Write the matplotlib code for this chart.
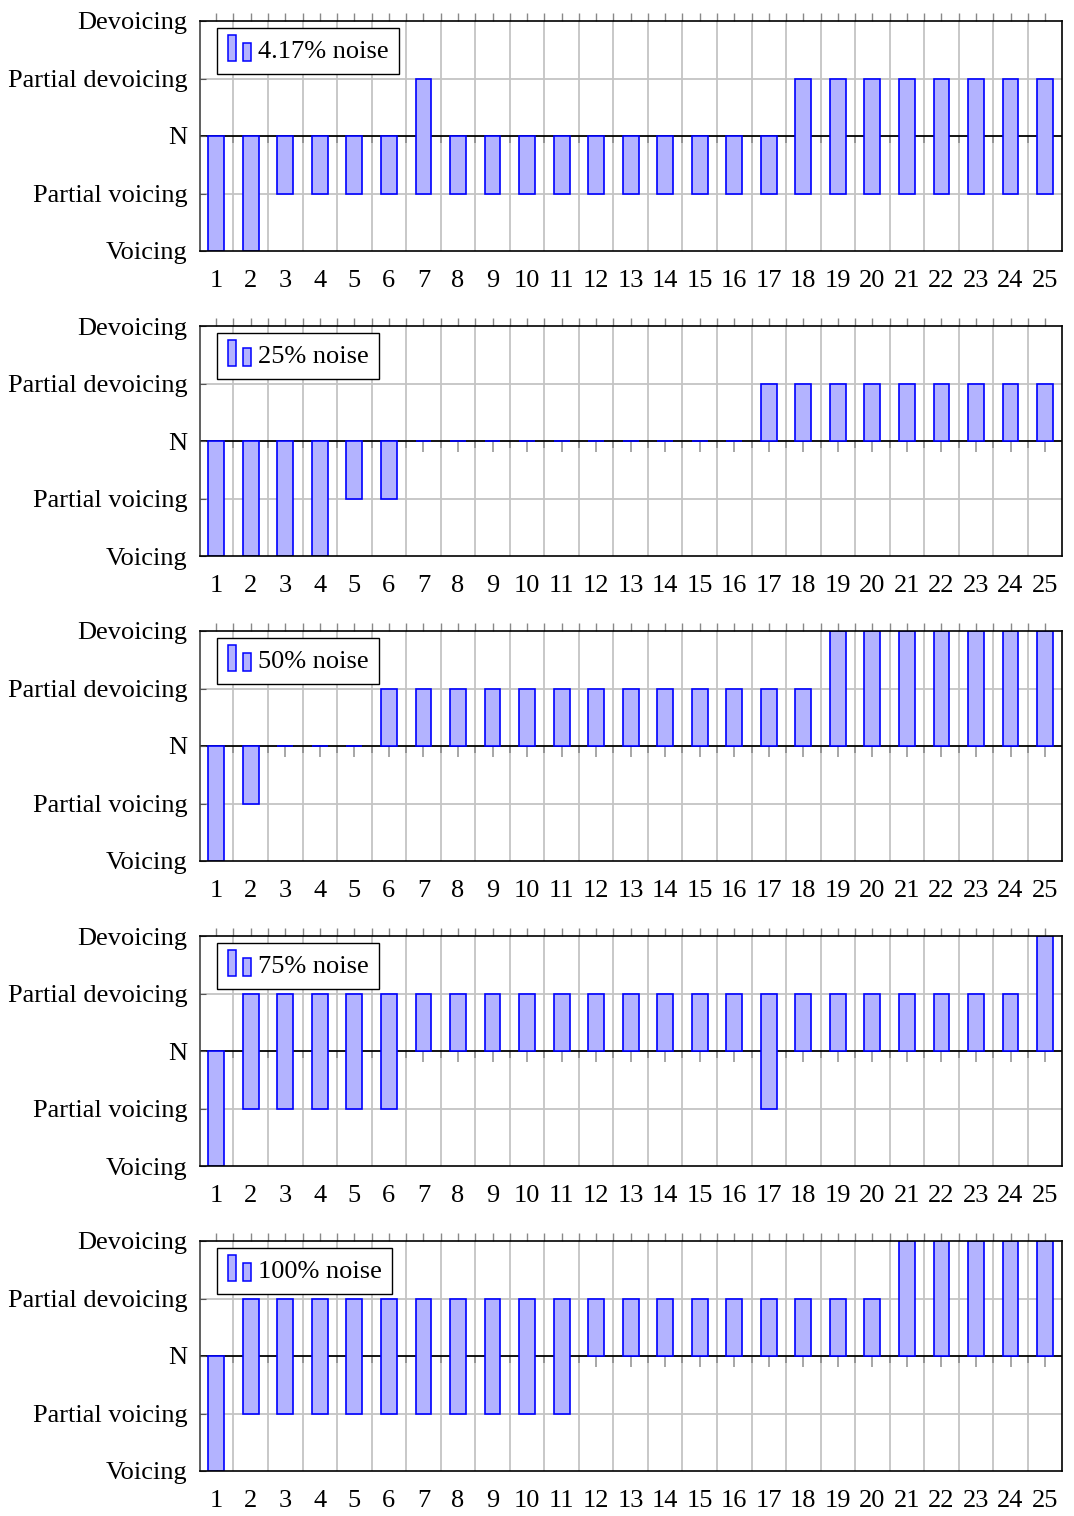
import matplotlib
matplotlib.use('Agg')
import matplotlib.pyplot as plt
import numpy as np
from matplotlib.patches import Rectangle
from matplotlib.legend_handler import HandlerBase

# data: each position has an upper and a lower end of its bar
positions = list(range(1, 26))
ylabels = ['Voicing', 'Partial voicing', 'N', 'Partial devoicing', 'Devoicing']
noise_labels = ['4.17% noise', '25% noise', '50% noise', '75% noise', '100% noise']

upper_4 = [0, 0, 0, 0, 0, 0, 1, 0, 0, 0, 0, 0, 0, 0, 0, 0, 0, 1, 1, 1, 1, 1, 1, 1, 1]
lower_4 = [-2, -2, -1, -1, -1, -1, -1, -1, -1, -1, -1, -1, -1, -1, -1, -1, -1, -1, -1, -1, -1, -1, -1, -1, -1]

upper_25 = [0, 0, 0, 0, 0, 0, 0, 0, 0, 0, 0, 0, 0, 0, 0, 0, 1, 1, 1, 1, 1, 1, 1, 1, 1]
lower_25 = [-2, -2, -2, -2, -1, -1, 0, 0, 0, 0, 0, 0, 0, 0, 0, 0, 0, 0, 0, 0, 0, 0, 0, 0, 0]

upper_50 = [0, 0, 0, 0, 0, 1, 1, 1, 1, 1, 1, 1, 1, 1, 1, 1, 1, 1, 2, 2, 2, 2, 2, 2, 2]
lower_50 = [-2, -1, 0, 0, 0, 0, 0, 0, 0, 0, 0, 0, 0, 0, 0, 0, 0, 0, 0, 0, 0, 0, 0, 0, 0]

upper_75 = [0, 1, 1, 1, 1, 1, 1, 1, 1, 1, 1, 1, 1, 1, 1, 1, 1, 1, 1, 1, 1, 1, 1, 1, 2]
lower_75 = [-2, -1, -1, -1, -1, -1, 0, 0, 0, 0, 0, 0, 0, 0, 0, 0, -1, 0, 0, 0, 0, 0, 0, 0, 0]

upper_100 = [0, 1, 1, 1, 1, 1, 1, 1, 1, 1, 1, 1, 1, 1, 1, 1, 1, 1, 1, 1, 2, 2, 2, 2, 2]
lower_100 = [-2, -1, -1, -1, -1, -1, -1, -1, -1, -1, -1, 0, 0, 0, 0, 0, 0, 0, 0, 0, 0, 0, 0, 0, 0]

panels = [(upper_4, lower_4), (upper_25, lower_25), (upper_50, lower_50),
          (upper_75, lower_75), (upper_100, lower_100)]

plt.rcParams['font.family'] = ['Liberation Serif', 'DejaVu Serif']
FS = 19
FILL = '#b3b3ff'
EDGE = '#0000ff'
GRID = '#c4c4c4'


class TwoBarHandler(HandlerBase):
    # pgfplots-style ybar legend image: two small bars
    def create_artists(self, legend, orig_handle, xdescent, ydescent,
                       width, height, fontsize, trans):
        w = width * 0.36
        y0 = -ydescent - 0.05 * height
        r1 = Rectangle((-xdescent, y0), w, height * 1.2,
                       facecolor=FILL, edgecolor=EDGE, lw=1.1, transform=trans)
        r2 = Rectangle((-xdescent + width - w, y0), w, height * 0.85,
                       facecolor=FILL, edgecolor=EDGE, lw=1.1, transform=trans)
        return [r1, r2]


W, H = 1074, 1516
fig = plt.figure(figsize=(W / 100, H / 100), dpi=100)

for i, (up, lo) in enumerate(panels):
    top = 21 + 305 * i
    ax = fig.add_axes([200 / W, (H - top - 230) / H, 862 / W, 230 / H])
    x = np.array(positions)
    up = np.array(up)
    lo = np.array(lo)

    # grid
    for g in np.arange(1.5, 25, 1):
        ax.axvline(g, color=GRID, lw=1.3, zorder=0)
    for g in (-1, 1):
        ax.axhline(g, color=GRID, lw=1.3, zorder=0)
    ax.axhline(0, color='black', lw=1.3, zorder=1)

    # little ticks under the N line
    ax.vlines(x, -0.19, 0, color='#a0a0a0', lw=1.3, zorder=0.5)
    ax.vlines(np.arange(1.5, 25, 1), -0.12, 0, color='#909090', lw=1.3, zorder=0.5)

    bars = ax.bar(x, up - lo, bottom=lo, width=0.46, color=FILL,
                  edgecolor=EDGE, lw=1.2, zorder=2)

    ax.set_xlim(0.53, 25.49)
    ax.set_ylim(-2, 2)
    ax.set_xticks(positions)
    ax.set_xticklabels([str(p) for p in positions], fontsize=FS)
    ax.tick_params(axis='x', length=0, pad=14)
    ax.set_yticks([-2, -1, 0, 1, 2])
    ax.set_yticklabels(ylabels, fontsize=FS)
    ax.tick_params(axis='y', direction='in', length=4, pad=9, color='#555555')
    for s in ax.spines.values():
        s.set_linewidth(1.2)
    ax.spines['left'].set_color('#444444')

    sec = ax.secondary_xaxis('top')
    sec.set_xticks(list(x) + list(np.arange(1.5, 25, 1)))
    sec.set_xticklabels([])
    sec.tick_params(direction='out', length=6, color='#888888', width=1)
    sec.spines['top'].set_visible(False)

    leg = ax.legend([bars], [noise_labels[i]], loc='upper left',
                    bbox_to_anchor=(17 / 862, 1 - 7 / 230), borderaxespad=0,
                    handler_map={type(bars): TwoBarHandler()},
                    fontsize=FS, frameon=True, fancybox=False,
                    edgecolor='black', framealpha=1, borderpad=0.4,
                    handlelength=0.9, handletextpad=0.25, handleheight=0.85)
    leg.get_frame().set_linewidth(1)
    leg.set_zorder(5)

fig.savefig('out.png', dpi=100)
